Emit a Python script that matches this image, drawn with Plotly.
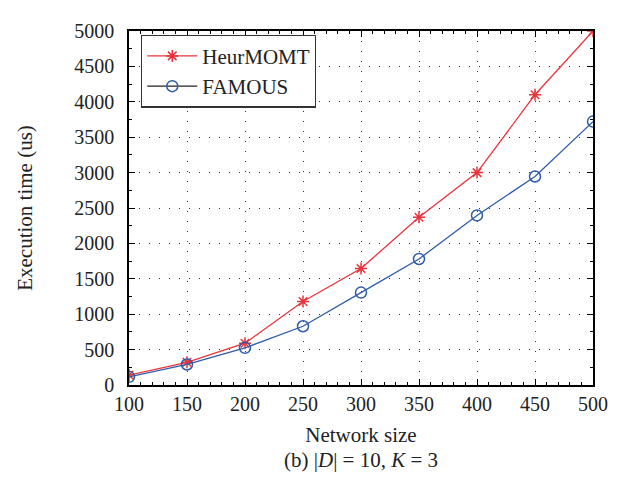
import plotly.graph_objects as go

network_size = [100, 150, 200, 250, 300, 350, 400, 450, 500]
heurmomt = [140, 320, 590, 1180, 1645, 2370, 3000, 4100, 5000]
famous = [115, 290, 525, 830, 1305, 1780, 2395, 2945, 3720]

font_family = "Liberation Serif"
red = "#e8343c"
blue = "#2f5cab"
txt = "#222222"

fig = go.Figure()
fig.add_trace(go.Scatter(
    x=network_size, y=heurmomt, name="HeurMOMT", mode="lines+markers",
    line=dict(color=red, width=1.3),
    marker=dict(symbol="asterisk-open", size=10, color=red, line=dict(color=red, width=1.5)),
))
fig.add_trace(go.Scatter(
    x=network_size, y=famous, name="FAMOUS", mode="lines+markers", showlegend=False,
    line=dict(color=blue, width=1.3),
    marker=dict(symbol="circle-open", size=11, color=blue, line=dict(color=blue, width=1.5)),
))
# legend entry for FAMOUS (black line, blue marker as in the reference legend)
fig.add_trace(go.Scatter(
    x=[None], y=[None], name="FAMOUS", mode="lines+markers",
    line=dict(color="#222222", width=1.3),
    marker=dict(symbol="circle-open", size=11, color=blue, line=dict(color=blue, width=1.5)),
))

axis_common = dict(
    showline=True, linecolor="black", linewidth=1.5, mirror="allticks",
    ticks="inside", ticklen=6, tickcolor="black",
    showgrid=True, gridcolor="#333333", gridwidth=1, griddash="1px,9px",
    zeroline=False,
    tickfont=dict(family=font_family, size=20, color=txt),
    title_font=dict(family=font_family, size=21, color=txt),
)

fig.update_xaxes(
    range=[100, 500], tickvals=network_size,
    title_text="Network size", title_standoff=14,
    minor=dict(dtick=10, ticks="inside", ticklen=3, tickcolor="black", showgrid=False),
    **axis_common,
)
fig.update_yaxes(
    range=[0, 5000], dtick=500, ticklabelstandoff=9,
    title_text="Execution time (us)", title_standoff=36,
    minor=dict(dtick=250, ticks="inside", ticklen=3, tickcolor="black", showgrid=False),
    **axis_common,
)

fig.add_annotation(
    text="(b) |<i>D</i>| = 10, <i>K</i> = 3", xref="paper", yref="paper",
    x=0.5, y=-0.211, yanchor="middle", showarrow=False,
    font=dict(family=font_family, size=21, color=txt),
)

fig.update_layout(
    width=623, height=484,
    margin=dict(l=121, r=38, t=12, b=107),
    plot_bgcolor="white", paper_bgcolor="white",
    showlegend=True,
    legend=dict(
        x=0.026, y=0.99, xanchor="left", yanchor="top",
        bgcolor="white", bordercolor="#333333", borderwidth=1.2,
        font=dict(family=font_family, size=21, color=txt),
        tracegroupgap=0, itemwidth=50, entrywidth=200,
    ),
)

fig.write_html("out.html")
